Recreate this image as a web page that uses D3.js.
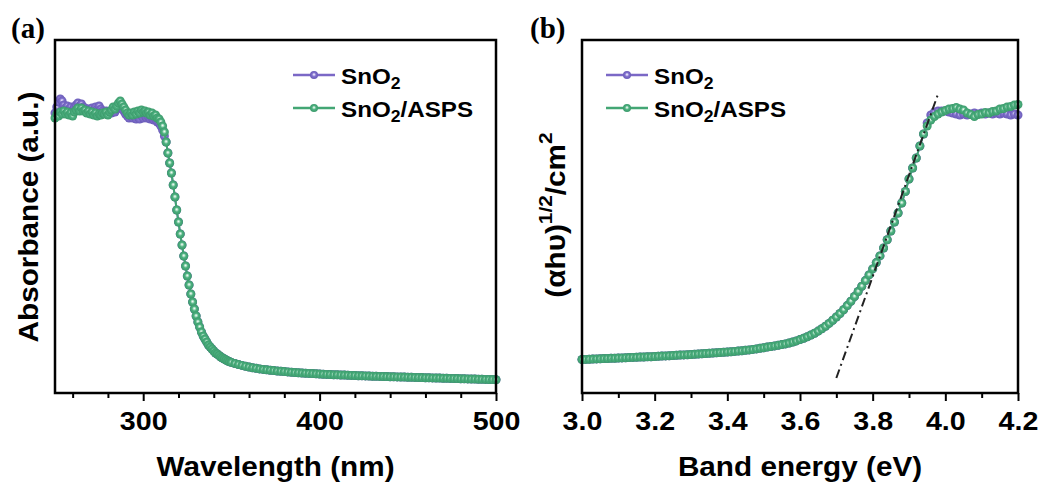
<!DOCTYPE html>
<html>
<head>
<meta charset="utf-8" />
<script src="https://d3js.org/d3.v7.min.js"></script>
<style>
    body { margin: 0; background: #fff; }
    text { font-family: "Liberation Sans", Arial, sans-serif; font-weight: bold; fill: #000; }
    .plab { font-family: "Liberation Serif", "Times New Roman", serif; }
</style>
</head>
<body>
<script>
    // ---- panel (a): absorbance vs wavelength ----
    // grid: 1 nm steps up to 350 nm, then 2 nm steps
    var wavelength = d3.range(250, 351, 1).concat(d3.range(352, 501, 2));
    var wlMajor = [300, 400, 500];
    var wlMinor = [260, 280, 320, 340, 360, 380, 420, 440, 460, 480];

    // 250-312 nm, each sample differs
    var absSnO2Head = [
        2.80, 2.86, 2.91, 2.94, 2.92, 2.88, 2.85, 2.87, 2.84, 2.86,
        2.83, 2.86, 2.88, 2.90, 2.87, 2.89, 2.86, 2.85, 2.83, 2.84,
        2.82, 2.85, 2.83, 2.86, 2.84, 2.87, 2.84, 2.82, 2.80, 2.82,
        2.79, 2.81, 2.80, 2.83, 2.81, 2.84, 2.86, 2.88, 2.85, 2.82,
        2.79, 2.77, 2.75, 2.77, 2.75, 2.77, 2.74, 2.76, 2.74, 2.77,
        2.75, 2.77, 2.75, 2.76, 2.74, 2.75, 2.73, 2.74, 2.71, 2.70,
        2.67, 2.63, 2.57];
    var absAspsHead = [
        2.75, 2.79, 2.77, 2.81, 2.79, 2.82, 2.79, 2.81, 2.78, 2.80,
        2.77, 2.81, 2.83, 2.85, 2.82, 2.85, 2.82, 2.83, 2.80, 2.82,
        2.79, 2.81, 2.78, 2.80, 2.77, 2.79, 2.78, 2.80, 2.79, 2.81,
        2.78, 2.81, 2.83, 2.86, 2.84, 2.87, 2.90, 2.92, 2.89, 2.86,
        2.83, 2.80, 2.78, 2.80, 2.78, 2.81, 2.79, 2.82, 2.80, 2.83,
        2.81, 2.82, 2.80, 2.81, 2.78, 2.80, 2.77, 2.78, 2.75, 2.74,
        2.71, 2.67, 2.61];
    // 313-500 nm, both films overlap here
    var absTail = [
        2.51, 2.40, 2.30, 2.20, 2.08, 1.96, 1.83, 1.71, 1.59, 1.48,
        1.37, 1.27, 1.17, 1.08, 0.99, 0.91, 0.84, 0.77, 0.71, 0.66,
        0.61, 0.57, 0.54, 0.51, 0.48, 0.46, 0.44, 0.42, 0.40, 0.39,
        0.375, 0.36, 0.35, 0.34, 0.33, 0.32, 0.313, 0.306,
        0.295, 0.285, 0.276, 0.268, 0.260, 0.253, 0.247, 0.241, 0.236, 0.232,
        0.228, 0.224, 0.220, 0.217, 0.214, 0.211, 0.208, 0.205, 0.203, 0.200,
        0.198, 0.196, 0.194, 0.192, 0.190, 0.188, 0.186, 0.185, 0.183, 0.182,
        0.180, 0.179, 0.177, 0.176, 0.175, 0.173, 0.172, 0.171, 0.170, 0.168,
        0.167, 0.166, 0.165, 0.164, 0.163, 0.162, 0.161, 0.160, 0.159, 0.158,
        0.157, 0.156, 0.155, 0.154, 0.153, 0.152, 0.151, 0.150, 0.149, 0.148,
        0.147, 0.146, 0.145, 0.144, 0.143, 0.142, 0.141, 0.140, 0.139, 0.138,
        0.137, 0.136, 0.135, 0.134, 0.133];

    // ---- panel (b): Tauc plot ----
    var energy = d3.range(300, 421).map(function (d) { return d / 100; });
    var eMajor = [3.0, 3.2, 3.4, 3.6, 3.8, 4.0, 4.2];
    var eMinor = [3.1, 3.3, 3.5, 3.7, 3.9, 4.1];

    // 3.00-3.94 eV, shared
    var taucBase = [
        0.335, 0.336, 0.338, 0.339, 0.341, 0.342, 0.344, 0.345, 0.347, 0.348,
        0.350, 0.351, 0.353, 0.354, 0.356, 0.357, 0.359, 0.360, 0.362, 0.363,
        0.365, 0.367, 0.369, 0.371, 0.373, 0.375, 0.377, 0.379, 0.381, 0.383,
        0.385, 0.387, 0.390, 0.392, 0.395, 0.397, 0.400, 0.402, 0.405, 0.407,
        0.410, 0.413, 0.416, 0.420, 0.423, 0.427, 0.431, 0.436, 0.441, 0.447,
        0.453, 0.459, 0.465, 0.471, 0.477, 0.484, 0.491, 0.500, 0.510, 0.521,
        0.534, 0.548, 0.563, 0.580, 0.598, 0.619, 0.642, 0.668, 0.696, 0.727,
        0.760, 0.795, 0.833, 0.874, 0.918, 0.965, 1.015, 1.068, 1.124, 1.181,
        1.241, 1.304, 1.371, 1.450, 1.532, 1.620, 1.710, 1.800, 1.900, 2.015,
        2.140, 2.250, 2.350, 2.470, 2.590];
    // 3.95-4.20 eV
    var taucSnO2Top = [
        2.70, 2.78, 2.81, 2.82, 2.82,
        2.82, 2.81, 2.80, 2.79, 2.78, 2.79, 2.78, 2.79, 2.80, 2.79,
        2.80, 2.79, 2.80, 2.79, 2.80, 2.79, 2.80, 2.79, 2.78, 2.79,
        2.78];
    var taucAspsTop = [
        2.670, 2.730, 2.765, 2.790, 2.810,
        2.825, 2.840, 2.845, 2.855, 2.840, 2.830, 2.800, 2.785, 2.765, 2.785,
        2.790, 2.805, 2.800, 2.815, 2.820, 2.840, 2.845, 2.860, 2.865, 2.880,
        2.885];
    // linear fit of the absorption edge
    var fitE = [3.70, 3.98];
    var fitV = [0.15, 2.99];

    var colors = { SnO2: "#7b68c6", "SnO2/ASPS": "#43a674" };

    var width = 1046, height = 486;
    var svg = d3.select("body").append("svg")
        .attr("width", width)
        .attr("height", height);

    var defs = svg.append("defs");
    function ball(id, c0, c1, c2) {
        var g = defs.append("radialGradient").attr("id", id)
            .attr("cx", "50%").attr("cy", "50%").attr("r", "50%")
            .attr("fx", "50%").attr("fy", "42%");
        g.append("stop").attr("offset", "0%").attr("stop-color", "#ffffff");
        g.append("stop").attr("offset", "22%").attr("stop-color", c0);
        g.append("stop").attr("offset", "50%").attr("stop-color", c1);
        g.append("stop").attr("offset", "100%").attr("stop-color", c2);
    }
    ball("ballP", "#c9c0ee", "#8070cc", "#6a5bb8");
    ball("ballG", "#b5e2ca", "#4cb07f", "#3b9a6b");
    var fills = { SnO2: "url(#ballP)", "SnO2/ASPS": "url(#ballG)" };

    var plotTop = 40, plotBottom = 393;

    function zip(xs, ys) {
        return xs.map(function (x, i) { return { x: x, y: ys[i] }; });
    }

    function panel(o) {
        var x = d3.scaleLinear().domain(o.xDomain).range([o.left, o.right]);
        var y = d3.scaleLinear().domain([0, 3.53]).range([plotBottom, plotTop]);
        var g = svg.append("g");

        var line = d3.line().x(function (d) { return x(d.x); }).y(function (d) { return y(d.y); });

        o.series.forEach(function (s) {
            g.append("path").datum(s.data)
                .attr("d", line)
                .attr("fill", "none")
                .attr("stroke", colors[s.name])
                .attr("stroke-width", 2);
            g.append("g").selectAll("circle").data(s.data).enter()
                .append("circle")
                .attr("cx", function (d) { return x(d.x); })
                .attr("cy", function (d) { return y(d.y); })
                .attr("r", 4.5)
                .attr("fill", fills[s.name]);
        });

        if (o.fit) {
            g.append("path").datum(o.fit)
                .attr("d", line)
                .attr("fill", "none")
                .attr("stroke", "#222")
                .attr("stroke-width", 2)
                .attr("stroke-dasharray", "9 4 2 4");
        }

        // frame
        g.append("rect")
            .attr("x", o.left).attr("y", plotTop)
            .attr("width", o.right - o.left).attr("height", plotBottom - plotTop)
            .attr("fill", "none").attr("stroke", "#000").attr("stroke-width", 2.5);

        // ticks
        var minorAx = g.append("g").attr("transform", "translate(0," + plotBottom + ")")
            .call(d3.axisBottom(x).tickValues(o.minor).tickSize(5).tickFormat(""));
        var majorAx = g.append("g").attr("transform", "translate(0," + plotBottom + ")")
            .call(d3.axisBottom(x).tickValues(o.major).tickSize(8).tickFormat(o.fmt));
        [minorAx, majorAx].forEach(function (a) {
            a.select(".domain").remove();
            a.selectAll("line").attr("stroke", "#000").attr("stroke-width", 2);
        });
        majorAx.selectAll("text")
            .attr("y", 37).attr("dy", 0)
            .attr("font-size", 26)
            .attr("transform", "scale(1.1,1)")
            .style("font-family", "'Liberation Sans', Arial, sans-serif")
            .style("font-weight", "bold")
            .attr("fill", "#000");

        // x title
        g.append("text")
            .attr("transform", "translate(" + ((o.left + o.right) / 2) + ",476) scale(1.1,1)")
            .attr("text-anchor", "middle")
            .attr("font-size", 27)
            .text(o.xTitle);

        // panel letter
        g.append("text").attr("class", "plab")
            .attr("x", o.letterX).attr("y", 38)
            .attr("font-size", 29)
            .text(o.letter);

        // legend
        o.series.forEach(function (s, i) {
            var ly = [75, 108][i];
            var lg = g.append("g");
            lg.append("line")
                .attr("x1", o.legX).attr("x2", o.legX + 42)
                .attr("y1", ly).attr("y2", ly)
                .attr("stroke", colors[s.name]).attr("stroke-width", 2.5);
            lg.append("circle")
                .attr("cx", o.legX + 21).attr("cy", ly).attr("r", 4)
                .attr("fill", fills[s.name]);
            var t = lg.append("text")
                .attr("transform", "translate(" + (o.legX + 48) + "," + (ly + 9) + ") scale(1.1,1)")
                .attr("font-size", 22);
            t.append("tspan").text("SnO");
            t.append("tspan").attr("font-size", 16).attr("dy", 5).text("2");
            if (s.name === "SnO2/ASPS") {
                t.append("tspan").attr("dy", -5).text("/ASPS");
            }
        });
        return g;
    }

    var ga = panel({
        left: 55, right: 496,
        xDomain: [250, 500],
        major: wlMajor, minor: wlMinor, fmt: d3.format("d"),
        xTitle: "Wavelength (nm)",
        letter: "(a)", letterX: 11,
        legX: 293,
        series: [
            { name: "SnO2", data: zip(wavelength, absSnO2Head.concat(absTail)) },
            { name: "SnO2/ASPS", data: zip(wavelength, absAspsHead.concat(absTail)) }
        ]
    });
    ga.append("text")
        .attr("transform", "translate(38,217) rotate(-90) scale(1.1,1)")
        .attr("text-anchor", "middle")
        .attr("font-size", 27)
        .text("Absorbance (a.u.)");

    var gb = panel({
        left: 582, right: 1018,
        xDomain: [3.0, 4.2],
        major: eMajor, minor: eMinor, fmt: d3.format(".1f"),
        xTitle: "Band energy (eV)",
        letter: "(b)", letterX: 530,
        legX: 606,
        fit: zip(fitE, fitV),
        series: [
            { name: "SnO2", data: zip(energy, taucBase.concat(taucSnO2Top)) },
            { name: "SnO2/ASPS", data: zip(energy, taucBase.concat(taucAspsTop)) }
        ]
    });
    var yt = gb.append("text")
        .attr("transform", "translate(565,215) rotate(-90) scale(1.1,1)")
        .attr("text-anchor", "middle")
        .attr("font-size", 27);
    yt.append("tspan").text("(\u03b1h\u03c5)");
    yt.append("tspan").attr("font-size", 19).attr("dy", -13).text("1/2");
    yt.append("tspan").attr("dy", 13).text("/cm");
    yt.append("tspan").attr("font-size", 19).attr("dy", -13).text("2");
</script>
</body>
</html>
